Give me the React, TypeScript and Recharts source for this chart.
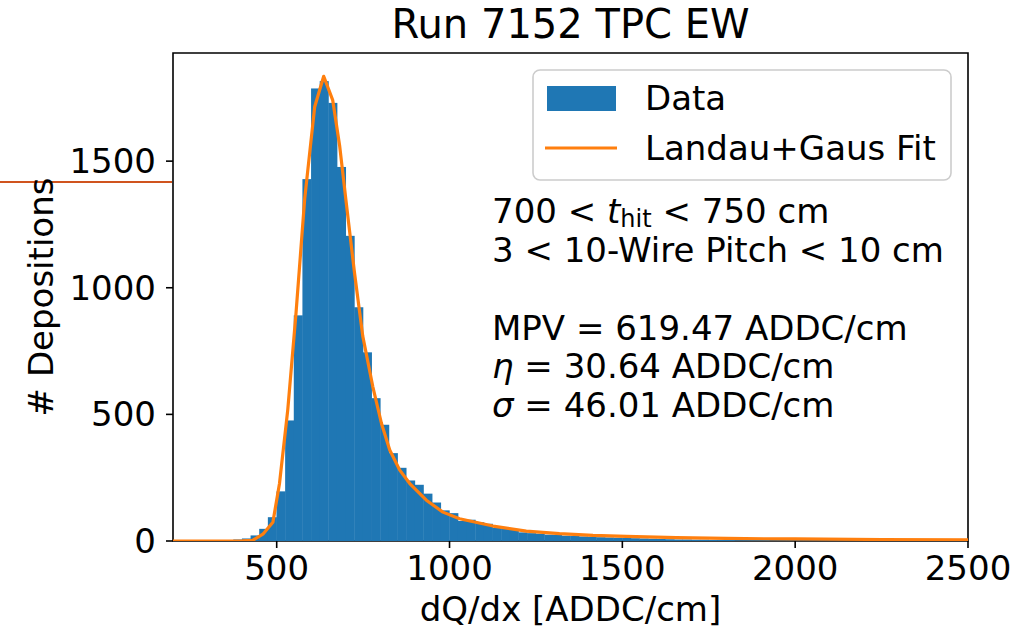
import { Bar, ComposedChart, Line, ReferenceArea, XAxis, YAxis } from "recharts";

// histogram bins: left edge of each 25 ADDC/cm bin and the count
const binLefts = [
  200, 225, 250, 275, 300, 325, 350, 375, 400, 425, 450, 475, 500, 525, 550, 575, 600, 625, 650,
  675, 700, 725, 750, 775, 800, 825, 850, 875, 900, 925, 950, 975, 1000, 1025, 1050, 1075, 1100,
  1125, 1150, 1175, 1200, 1225, 1250, 1275, 1300, 1325, 1350, 1375, 1400, 1425, 1450, 1475, 1500,
  1525, 1550, 1575, 1600, 1625, 1650, 1675, 1700, 1725, 1750, 1775, 1800, 1825, 1850, 1875, 1900,
  1925, 1950, 1975, 2000, 2025, 2050, 2075, 2100, 2125, 2150, 2175, 2200, 2225, 2250, 2275, 2300,
  2325, 2350, 2375, 2400, 2425, 2450, 2475,
];
const binCounts = [
  0, 0, 0, 0, 0, 0, 0, 6, 10, 22, 48, 94, 196, 476, 891, 1429, 1787, 1816, 1730, 1477, 1205, 923,
  745, 564, 459, 347, 289, 239, 222, 187, 152, 121, 110, 79, 84, 74, 68, 52, 52, 44, 34, 31, 29,
  25, 24, 21, 20, 18, 17, 15, 14, 13, 12, 11, 10, 9, 8, 7, 6, 6, 5, 5, 4, 4, 4, 3, 3, 3, 3, 2, 2,
  2, 2, 2, 2, 2, 2, 2, 1, 1, 1, 1, 1, 1, 1, 1, 1, 1, 1, 1, 1, 1,
];
const BIN_WIDTH = 25;

// Landau+Gaus fit curve
const fitX = [
  200, 300, 400, 431, 460, 489, 508, 532, 556, 581, 610, 636, 662, 682, 701, 725, 749, 778, 803,
  827, 856, 885, 933, 981, 1029, 1126, 1222, 1318, 1415, 1511, 1656, 1800, 2000, 2250, 2500,
];
const fitY = [
  0, 0, 1, 3, 27, 74, 226, 518, 902, 1351, 1715, 1835, 1741, 1562, 1338, 1060, 809, 610, 465, 359,
  280, 227, 161, 114, 88, 59, 39, 29, 22, 18, 13, 10, 8, 6, 5,
];

const xTicks = [500, 1000, 1500, 2000, 2500];
const yTicks = [0, 500, 1000, 1500];
const X_DOMAIN: [number, number] = [200, 2500];
const Y_DOMAIN: [number, number] = [0, 1927];

const W = 1035;
const H = 635;
const FONT = "'DejaVu Sans', sans-serif";
const FS = 34;
const BLUE = "#1f77b4";
const ORANGE = "#ff7f0e";

const histData = binLefts.map((l, i) => ({ x: l + BIN_WIDTH / 2, count: binCounts[i] }));
const fitData = fitX.map((x, i) => ({ x, fit: fitY[i] }));

const Y_AXIS_W = 80;
const margin = { top: 53, right: 67, bottom: 34, left: 93 };
const plotW = W - margin.left - Y_AXIS_W - margin.right;
const barPx = (BIN_WIDTH / (X_DOMAIN[1] - X_DOMAIN[0])) * plotW;

// recharts squeezes bars on a number axis; redraw each one at the full bin width around its centre
function HistBar(props: any) {
  const { x, width, y, height, fill } = props;
  if (!height || height <= 0) return null;
  const cx = x + width / 2;
  return <rect x={cx - barPx / 2 - 0.2} y={y} width={barPx + 0.4} height={height} fill={fill} />;
}

export default function App() {
  const tick = { fill: "#000", fontSize: FS, fontFamily: FONT };
  const spine = { stroke: "#000", strokeWidth: 1.6 };
  return (
    <div style={{ position: "absolute", left: 0, top: 0, width: W, height: H, background: "#fff" }}>
      <ComposedChart width={W} height={H} data={histData} margin={margin}>
        <XAxis
          dataKey="x"
          type="number"
          domain={X_DOMAIN}
          ticks={xTicks}
          allowDataOverflow
          height={60}
          tick={tick}
          tickSize={7}
          tickMargin={8}
          tickLine={spine}
          axisLine={false}
        />
        <YAxis
          type="number"
          domain={Y_DOMAIN}
          ticks={yTicks}
          allowDataOverflow
          width={Y_AXIS_W}
          tick={tick}
          tickSize={7}
          tickMargin={10}
          tickLine={spine}
          axisLine={false}
        />
        <Bar dataKey="count" fill={BLUE} shape={HistBar} isAnimationActive={false} />
        <Line
          data={fitData}
          dataKey="fit"
          type="linear"
          stroke={ORANGE}
          strokeWidth={3.2}
          strokeLinejoin="round"
          dot={false}
          activeDot={false}
          isAnimationActive={false}
        />
        {/* axes frame */}
        <ReferenceArea
          x1={X_DOMAIN[0]}
          x2={X_DOMAIN[1]}
          y1={Y_DOMAIN[0]}
          y2={Y_DOMAIN[1]}
          fill="none"
          fillOpacity={0}
          stroke="#000"
          strokeWidth={1.6}
          strokeOpacity={1}
          ifOverflow="visible"
        />
      </ComposedChart>

      <svg
        width={W}
        height={H}
        style={{ position: "absolute", left: 0, top: 0, pointerEvents: "none" }}
        fontFamily={FONT}
      >
        <line x1={0} x2={172} y1={182} y2={182} stroke="#d0541e" strokeWidth={2.2} />
        <text x={570.5} y={38} textAnchor="middle" fontSize={40}>
          Run 7152 TPC EW
        </text>
        <text x={570.5} y={621} textAnchor="middle" fontSize={FS}>
          dQ/dx [ADDC/cm]
        </text>
        <text transform="translate(53,297) rotate(-90)" textAnchor="middle" fontSize={FS}>
          # Depositions
        </text>

        {/* legend */}
        <rect x={533} y={70} width={418} height={110} rx={7} fill="#fff" fillOpacity={0.8} stroke="#cccccc" strokeWidth={1.6} />
        <rect x={547} y={86} width={69} height={25} fill={BLUE} />
        <line x1={545} x2={617} y1={148} y2={148} stroke={ORANGE} strokeWidth={3.2} />
        <text x={645} y={110} fontSize={FS}>Data</text>
        <text x={645} y={160} fontSize={FS}>Landau+Gaus Fit</text>

        {/* fit annotation */}
        <g fontSize={FS}>
          <text x={492} y={223}>
            700 &lt; <tspan fontStyle="italic">t</tspan>
            <tspan fontSize={24} dy={4}>hit</tspan>
            <tspan dy={-4}> &lt; 750 cm</tspan>
          </text>
          <text x={492} y={262}>3 &lt; 10-Wire Pitch &lt; 10 cm</text>
          <text x={492} y={340}>MPV = 619.47 ADDC/cm</text>
          <text x={492} y={378}>
            <tspan fontStyle="italic">η</tspan> = 30.64 ADDC/cm
          </text>
          <text x={492} y={417}>
            <tspan fontStyle="italic">σ</tspan> = 46.01 ADDC/cm
          </text>
        </g>
      </svg>
    </div>
  );
}
